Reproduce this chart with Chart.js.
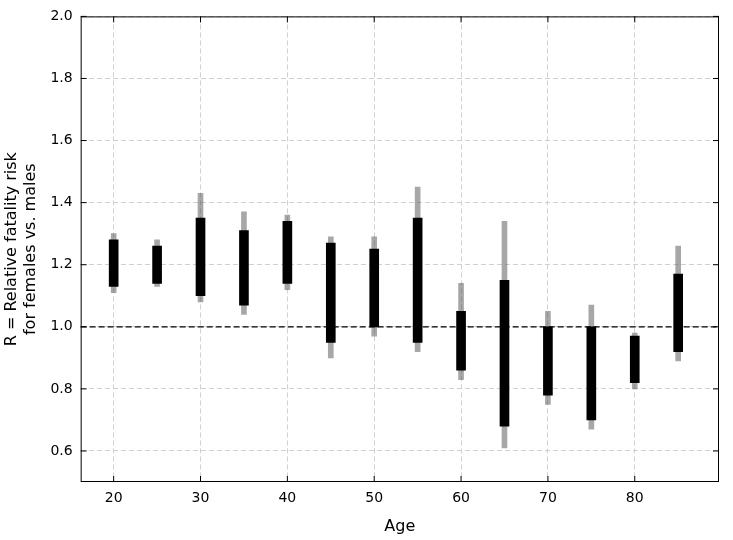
<!DOCTYPE html>
<html>
<head>
<meta charset="utf-8">
<script src="https://cdn.jsdelivr.net/npm/chart.js@4/dist/chart.umd.min.js"></script>
<style>
  html, body { margin: 0; padding: 0; background: #fff; }
  #wrap { width: 733px; height: 540px; }
</style>
</head>
<body>
<div id="wrap"><canvas id="c"></canvas></div>
<script>
// ages and the spread of R
const ages = [20, 25, 30, 35, 40, 45, 50, 55, 60, 65, 70, 75, 80, 85];
const denseLow  = [1.13, 1.14, 1.10, 1.07, 1.14, 0.95, 1.00, 0.95, 0.86, 0.68, 0.78, 0.70, 0.82, 0.92];
const denseHigh = [1.28, 1.26, 1.35, 1.31, 1.34, 1.27, 1.25, 1.35, 1.05, 1.15, 1.00, 1.00, 0.97, 1.17];
const tailLow   = [1.11, 1.13, 1.08, 1.04, 1.12, 0.90, 0.97, 0.92, 0.83, 0.61, 0.75, 0.67, 0.80, 0.89];
const tailHigh  = [1.30, 1.28, 1.43, 1.37, 1.36, 1.29, 1.29, 1.45, 1.14, 1.34, 1.05, 1.07, 0.98, 1.26];
const xTicks = [20, 30, 40, 50, 60, 70, 80];
const yTicks = [0.6, 0.8, 1.0, 1.2, 1.4, 1.6, 1.8, 2.0];

const frame = {
  id: 'frame',
  afterDraw(chart) {
    const { ctx, chartArea: a, scales } = chart;
    ctx.save();
    // reference line at R = 1
    const y1 = scales.y.getPixelForValue(1.0);
    ctx.strokeStyle = '#000';
    ctx.lineWidth = 1.3;
    ctx.setLineDash([6, 3]);
    ctx.beginPath(); ctx.moveTo(a.left, y1); ctx.lineTo(a.right, y1); ctx.stroke();
    ctx.setLineDash([]);
    // box
    ctx.lineWidth = 1;
    ctx.strokeRect(a.left + 0.5, a.top + 0.5, a.width - 1, a.height - 1);
    // inward ticks on all sides
    ctx.beginPath();
    xTicks.forEach(v => {
      const x = scales.x.getPixelForValue(v);
      ctx.moveTo(x, a.bottom); ctx.lineTo(x, a.bottom - 6);
      ctx.moveTo(x, a.top); ctx.lineTo(x, a.top + 6);
    });
    yTicks.forEach(v => {
      const y = scales.y.getPixelForValue(v);
      ctx.moveTo(a.left, y); ctx.lineTo(a.left + 6, y);
      ctx.moveTo(a.right, y); ctx.lineTo(a.right - 6, y);
    });
    ctx.stroke();
    ctx.restore();
  }
};

const setTicks = list => scale => { scale.ticks = list.map(v => ({ value: v })); };

new Chart(document.getElementById('c'), {
  type: 'bar',
  data: {
    datasets: [
      {
        label: 'tails',
        data: ages.map((a, i) => ({ x: a, y: [tailLow[i], tailHigh[i]] })),
        backgroundColor: 'rgba(80,80,80,0.5)',
        barThickness: 5,
        grouped: false,
        order: 2
      },
      {
        label: 'bulk',
        data: ages.map((a, i) => ({ x: a, y: [denseLow[i], denseHigh[i]] })),
        backgroundColor: '#000',
        barThickness: 9,
        grouped: false,
        order: 1
      }
    ]
  },
  plugins: [frame],
  options: {
    responsive: true,
    maintainAspectRatio: false,
    animation: false,
    layout: { padding: { top: 6, right: 14, left: 0, bottom: 2 } },
    plugins: { legend: { display: false }, tooltip: { enabled: false } },
    scales: {
      x: {
        type: 'linear', min: 16.2, max: 89.7, offset: false,
        afterBuildTicks: setTicks(xTicks),
        grid: { color: '#d0d0d0', drawTicks: false, offset: false },
        border: { display: false, dash: [5, 3] },
        ticks: { color: '#000', font: { family: 'DejaVu Sans', size: 14 }, padding: 8 },
        title: { display: true, text: 'Age', color: '#000', font: { family: 'DejaVu Sans', size: 16 }, padding: 2 }
      },
      y: {
        min: 0.5, max: 2.0,
        afterBuildTicks: setTicks(yTicks),
        grid: { color: '#d0d0d0', drawTicks: false },
        border: { display: false, dash: [5, 3] },
        ticks: { color: '#000', font: { family: 'DejaVu Sans', size: 14 }, padding: 8,
                 callback: v => v.toFixed(1) },
        title: { display: true, text: ['R = Relative fatality risk', 'for females vs. males'],
                 color: '#000', font: { family: 'DejaVu Sans', size: 16 }, padding: 2 }
      }
    }
  }
});
</script>
</body>
</html>
